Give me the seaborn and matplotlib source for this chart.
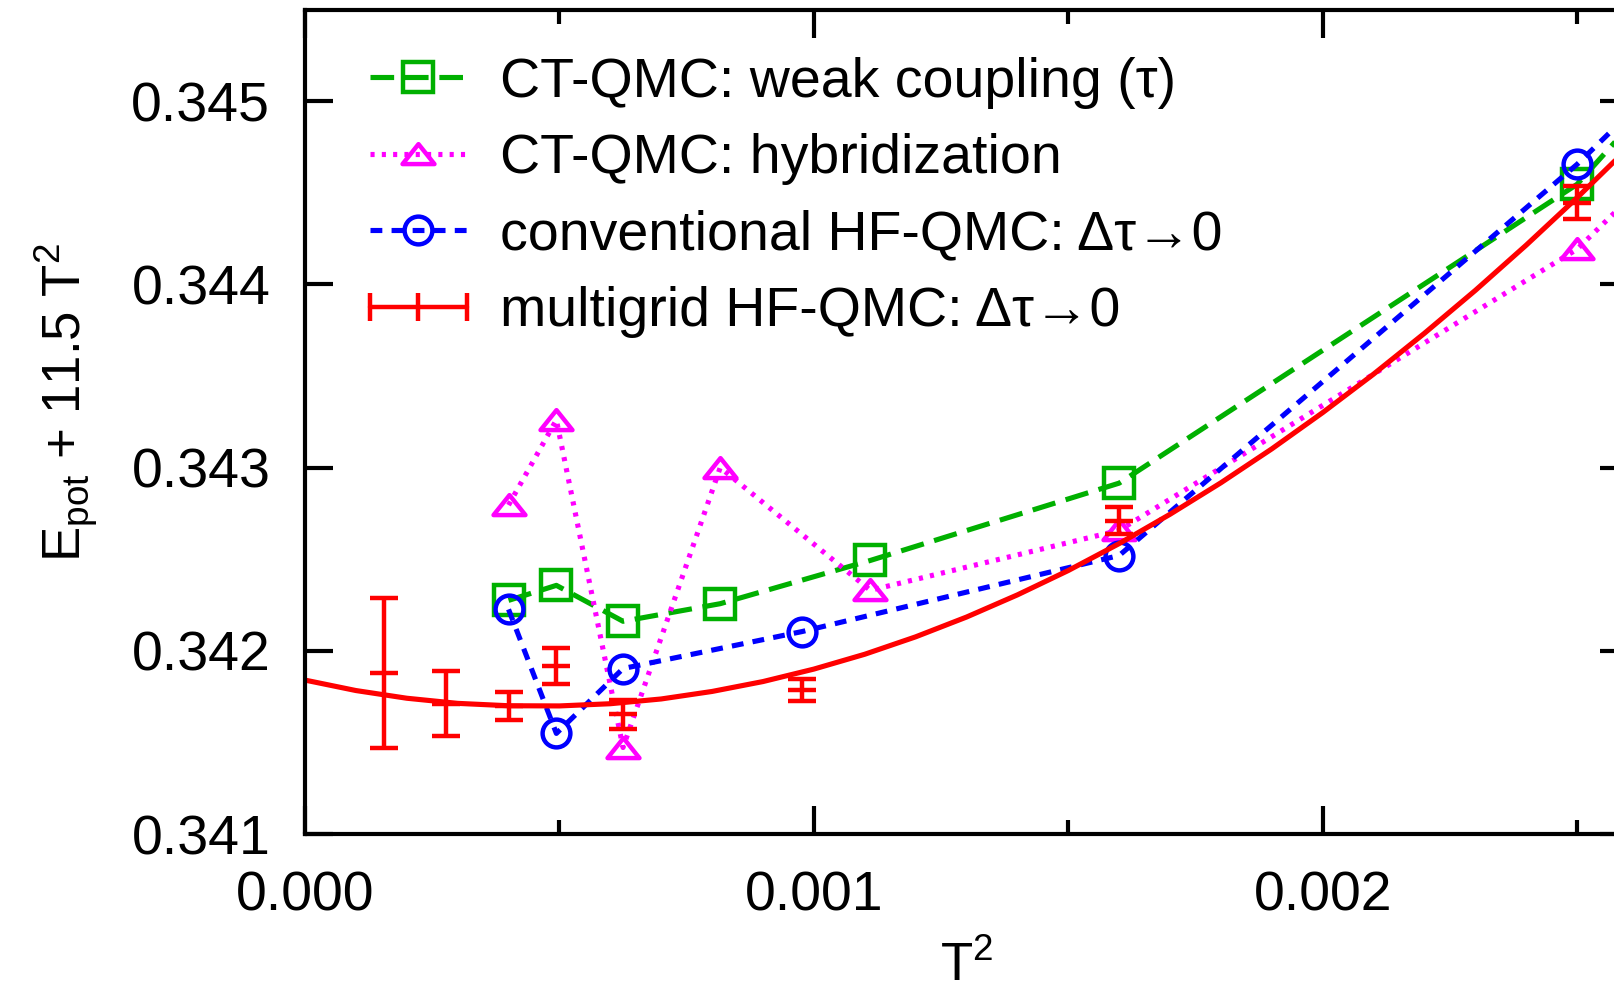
import matplotlib
matplotlib.use('Agg')
import matplotlib.pyplot as plt
from matplotlib.lines import Line2D
from matplotlib.path import Path
from matplotlib.legend_handler import HandlerLine2D
from matplotlib.ticker import FormatStrFormatter, MultipleLocator
import seaborn as sns

# ==== DATA ===================================================================
# CT-QMC weak coupling
wc_T2 = [0.000400, 0.000494, 0.000625, 0.000816, 0.001111, 0.001600, 0.002500, 0.003086]
wc_E = [0.342275, 0.342357, 0.342161, 0.342257, 0.342493, 0.342915, 0.344546, 0.346363]
# CT-QMC hybridization
hyb_T2 = [0.000400, 0.000494, 0.000625, 0.000816, 0.001111, 0.001600, 0.002500, 0.003086]
hyb_E = [0.342795, 0.343260, 0.341472, 0.343000, 0.342330, 0.342657, 0.344192, 0.345774]
# conventional HF-QMC, extrapolated
hf_T2 = [0.000400, 0.000494, 0.000625, 0.000977, 0.001600, 0.002500, 0.003086]
hf_E = [0.342226, 0.341549, 0.341903, 0.342105, 0.342520, 0.344655, 0.346237]
# multigrid HF-QMC, extrapolated (with error bars)
mg_T2 = [0.000156, 0.000278, 0.000400, 0.000494, 0.000625, 0.000977, 0.001600, 0.002500]
mg_E = [0.341879, 0.341712, 0.341699, 0.341916, 0.341654, 0.341785, 0.342711, 0.344446]
mg_err = [0.000411, 0.000175, 0.000078, 0.000100, 0.000080, 0.000061, 0.000071, 0.000091]
# fit curve through multigrid data
fit_T2 = [0.0000, 0.0001, 0.0002, 0.0003, 0.0004, 0.0005, 0.0006, 0.0007, 0.0008,
          0.0009, 0.0010, 0.0011, 0.0012, 0.0013, 0.0014, 0.0015, 0.0016, 0.0017,
          0.0018, 0.0019, 0.0020, 0.0021, 0.0022, 0.0023, 0.0024, 0.0025, 0.0026,
          0.0027]
fit_E = [0.341840, 0.341783, 0.341741, 0.341713, 0.341700, 0.341699, 0.341711,
         0.341737, 0.341778, 0.341832, 0.341900, 0.341981, 0.342076, 0.342184,
         0.342305, 0.342438, 0.342585, 0.342745, 0.342917, 0.343102, 0.343300,
         0.343510, 0.343733, 0.343967, 0.344214, 0.344473, 0.344744, 0.345027]

labels = ['CT-QMC: weak coupling (\u03c4)',
          'CT-QMC: hybridization',
          'conventional HF-QMC: \u0394\u03c4\u21920',
          'multigrid HF-QMC: \u0394\u03c4\u21920']

# ==== SETTINGS ===============================================================
sns.set_theme(style='ticks')
plt.rcParams['font.family'] = ['Liberation Sans', 'DejaVu Sans']
plt.rcParams['text.color'] = 'black'
plt.rcParams['axes.unicode_minus'] = False

GREEN, MAGENTA, BLUE, RED = '#00b000', '#ff00ff', '#0000ff', '#ff0000'
LW = 3.7
MEW = 3.2
tri = Path([(-1, -0.6), (1, -0.6), (0, 0.65), (-1, -0.6)],
           [Path.MOVETO, Path.LINETO, Path.LINETO, Path.CLOSEPOLY])

styles = [
    dict(color=GREEN, linestyle=(0, (4.6, 2.1)), marker='s', markersize=21),
    dict(color=MAGENTA, linestyle=(0, (0.8, 1.4)), marker=tri, markersize=23),
    dict(color=BLUE, linestyle=(0, (2.3, 1.8)), marker='o', markersize=20),
]

# ==== FIGURE =================================================================
fig = plt.figure(figsize=(16.15, 9.98), dpi=100)
ax = fig.add_axes([305 / 1615, 164 / 998, 1323 / 1615, 824.5 / 998])

for (xs, ys), st in zip([(wc_T2, wc_E), (hyb_T2, hyb_E), (hf_T2, hf_E)], styles):
    sns.lineplot(x=xs, y=ys, ax=ax, color=st['color'], linestyle=st['linestyle'],
                 linewidth=LW, marker=st['marker'], markersize=st['markersize'],
                 markerfacecolor='none', markeredgecolor=st['color'],
                 markeredgewidth=MEW, legend=False, errorbar=None, sort=False)

# fit curve
sns.lineplot(x=fit_T2, y=fit_E, ax=ax, color=RED, linewidth=LW,
             legend=False, errorbar=None, sort=False)
# multigrid points with error bars
ax.errorbar(mg_T2, mg_E, yerr=mg_err, fmt='none', ecolor=RED,
            elinewidth=MEW, capsize=10, capthick=MEW, zorder=5)
ax.plot(mg_T2, mg_E, linestyle='none', marker='_', markersize=20,
        markeredgewidth=MEW, color=RED, zorder=5)

# ==== AXES ===================================================================
ax.set_xlim(0, 0.0026)
ax.set_ylim(0.341, 0.3455)
ax.xaxis.set_major_locator(MultipleLocator(0.001))
ax.xaxis.set_minor_locator(MultipleLocator(0.0005))
ax.yaxis.set_major_locator(MultipleLocator(0.001))
ax.xaxis.set_major_formatter(FormatStrFormatter('%.3f'))
ax.yaxis.set_major_formatter(FormatStrFormatter('%.3f'))
ax.tick_params(which='both', direction='in', top=True, right=True,
               width=3, color='black', labelsize=40, labelcolor='black')
ax.tick_params(which='major', length=20)
ax.tick_params(which='minor', length=10)
ax.tick_params(axis='y', pad=25)
ax.tick_params(axis='x', pad=26)
for sp in ax.spines.values():
    sp.set_linewidth(3)
    sp.set_color('black')

ax.set_xlabel(r'T$^{\mathregular{2}}$', fontsize=38, color='black')
ax.xaxis.set_label_coords(0.5, -0.130)
ax.xaxis.label.set_va('top')
ax.set_ylabel(r'E$_{\mathregular{pot}}$ + 11.5 T$^{\mathregular{2}}$',
              fontsize=38, color='black')
ax.yaxis.set_label_coords(-0.155, 0.523)

# ==== LEGEND =================================================================
handles = []
for st in styles:
    handles.append(Line2D([], [], color=st['color'], linestyle=st['linestyle'],
                          linewidth=LW, marker=st['marker'],
                          markersize=st['markersize'], markerfacecolor='none',
                          markeredgecolor=st['color'], markeredgewidth=MEW))
h_red = Line2D([], [], color=RED, linewidth=MEW, marker='|', markersize=20,
               markeredgewidth=MEW)
handles.append(h_red)
ax.legend(handles, labels, loc='upper left', bbox_to_anchor=(0.049, 0.9426),
          frameon=False, fontsize=40, labelcolor='black', borderpad=0,
          borderaxespad=0, handlelength=1.745, handletextpad=0.6,
          labelspacing=0.44, numpoints=1,
          handler_map={h_red: HandlerLine2D(numpoints=3, marker_pad=0)})

fig.savefig('out.png', dpi=100)
